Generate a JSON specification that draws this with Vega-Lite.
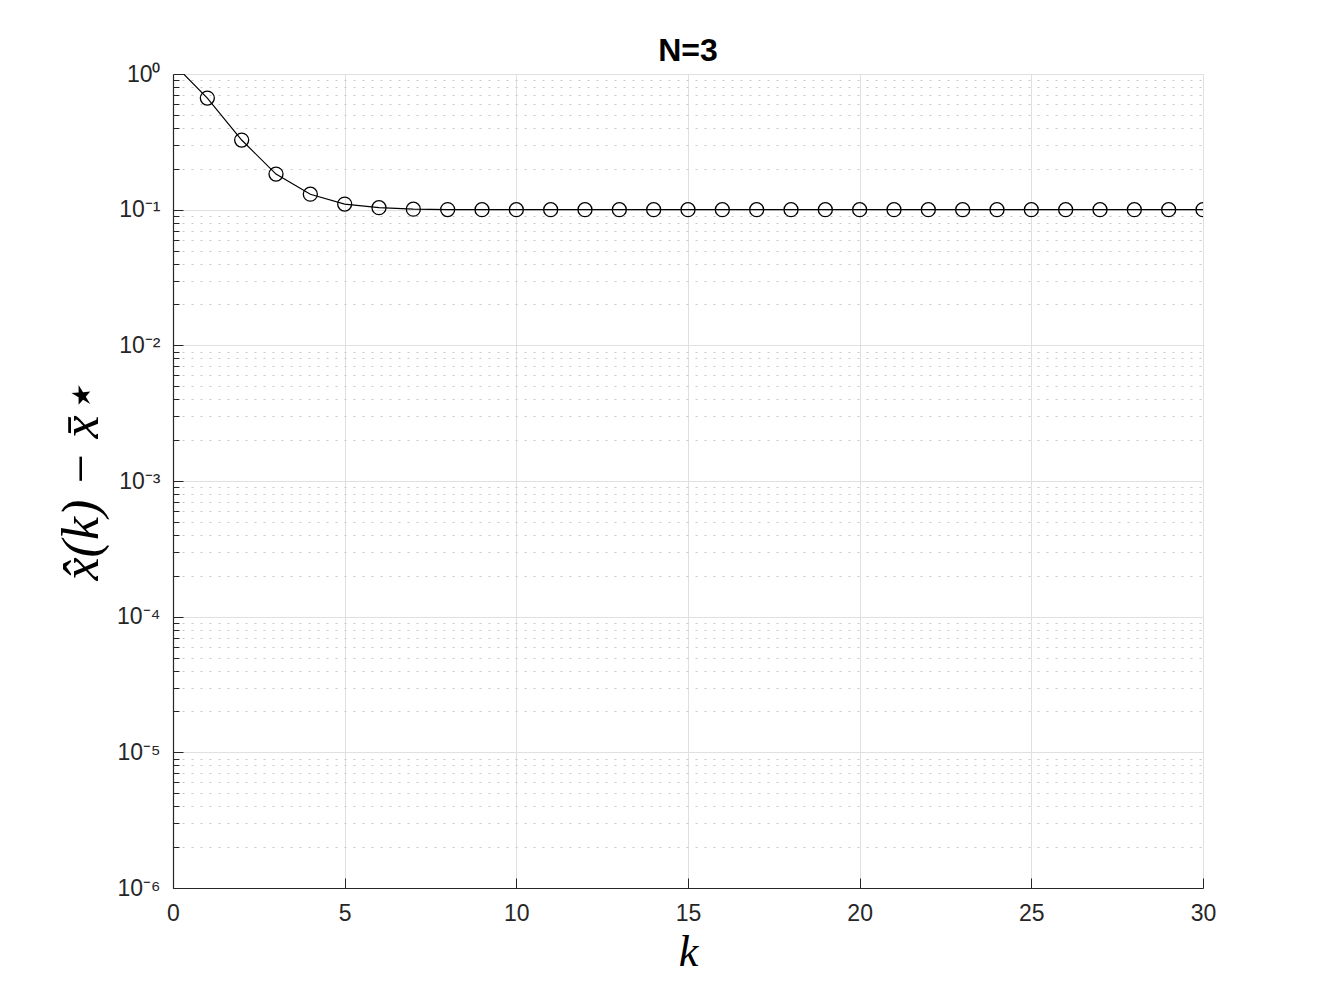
{
  "$schema": "https://vega.github.io/schema/vega-lite/v6.json",
  "autosize": {"type": "none"},
  "width": 1030,
  "height": 814,
  "padding": {"left": 173, "top": 74, "right": 126, "bottom": 109},
  "background": "white",
  "title": {"text": "N=3", "fontSize": 32, "font": "Liberation Sans", "fontWeight": "bold", "color": "#000000", "offset": -5, "anchor": "middle"},
  "data": {"values": [
    {"k": 0, "e": 1.2},
    {"k": 1, "e": 0.665},
    {"k": 2, "e": 0.326},
    {"k": 3, "e": 0.183},
    {"k": 4, "e": 0.130},
    {"k": 5, "e": 0.110},
    {"k": 6, "e": 0.1035},
    {"k": 7, "e": 0.1008},
    {"k": 8, "e": 0.1002},
    {"k": 9, "e": 0.1},
    {"k": 10, "e": 0.1},
    {"k": 11, "e": 0.1},
    {"k": 12, "e": 0.1},
    {"k": 13, "e": 0.1},
    {"k": 14, "e": 0.1},
    {"k": 15, "e": 0.1},
    {"k": 16, "e": 0.1},
    {"k": 17, "e": 0.1},
    {"k": 18, "e": 0.1},
    {"k": 19, "e": 0.1},
    {"k": 20, "e": 0.1},
    {"k": 21, "e": 0.1},
    {"k": 22, "e": 0.1},
    {"k": 23, "e": 0.1},
    {"k": 24, "e": 0.1},
    {"k": 25, "e": 0.1},
    {"k": 26, "e": 0.1},
    {"k": 27, "e": 0.1},
    {"k": 28, "e": 0.1},
    {"k": 29, "e": 0.1},
    {"k": 30, "e": 0.1}
  ]},
  "config": {
    "view": {"stroke": null},
    "axis": {
      "labelFont": "Liberation Sans",
      "labelFontSize": 23,
      "labelColor": "#262626",
      "domainColor": "#262626",
      "tickColor": "#262626",
      "gridColor": "#e0e0e0",
      "gridOpacity": 1,
      "domainWidth": 1.2
    }
  },
  "encoding": {
    "x": {
      "field": "k", "type": "quantitative",
      "scale": {"domain": [0, 30], "nice": false, "zero": false},
      "axis": {
        "values": [0, 5, 10, 15, 20, 25, 30],
        "title": "k",
        "titleFont": "Liberation Serif",
        "titleFontStyle": "italic",
        "titleFontWeight": "normal",
        "titleFontSize": 44,
        "titleColor": "#000000",
        "titlePadding": 5,
        "tickSize": -10,
        "labelPadding": 24,
        "grid": true,
        "labelFlush": false
      }
    },
    "y": {
      "field": "e", "type": "quantitative",
      "scale": {"type": "log", "domain": [0.000001, 1], "nice": false},
      "axis": {
        "values": [0.000001,0.000002,0.000003,0.000004,0.000005,0.000006,0.000007,0.000008,0.000009,
                   0.00001,0.00002,0.00003,0.00004,0.00005,0.00006,0.00007,0.00008,0.00009,
                   0.0001,0.0002,0.0003,0.0004,0.0005,0.0006,0.0007,0.0008,0.0009,
                   0.001,0.002,0.003,0.004,0.005,0.006,0.007,0.008,0.009,
                   0.01,0.02,0.03,0.04,0.05,0.06,0.07,0.08,0.09,
                   0.1,0.2,0.3,0.4,0.5,0.6,0.7,0.8,0.9,1],
        "labelExpr": "abs(log(datum.value)/LN10 - round(log(datum.value)/LN10)) < 0.000001 ? ['10⁰','10⁻¹','10⁻²','10⁻³','10⁻⁴','10⁻⁵','10⁻⁶'][round(-log(datum.value)/LN10)] : ''",
        "title": "x̂(k) − x̄⋆",
        "titleFont": "Liberation Serif",
        "titleFontStyle": "italic",
        "titleFontWeight": "normal",
        "titleFontSize": 52,
        "titleColor": "#000000",
        "titlePadding": 8,
        "tickSize": {"condition": {"test": "abs(log(datum.value)/LN10 - round(log(datum.value)/LN10)) < 0.000001", "value": -10}, "value": -6},
        "labelPadding": 23,
        "grid": true,
        "gridDash": {"condition": {"test": "abs(log(datum.value)/LN10 - round(log(datum.value)/LN10)) < 0.000001", "value": []}, "value": [2, 7]},
        "gridColor": {"condition": {"test": "abs(log(datum.value)/LN10 - round(log(datum.value)/LN10)) < 0.000001", "value": "#e0e0e0"}, "value": "#c8c8c8"}
      }
    }
  },
  "layer": [
    {"mark": {"type": "line", "color": "#000000", "strokeWidth": 1.2, "clip": true}},
    {"mark": {"type": "point", "shape": "circle", "filled": false, "color": "#000000", "size": 196, "strokeWidth": 1.3, "opacity": 1, "clip": true}}
  ]
}
